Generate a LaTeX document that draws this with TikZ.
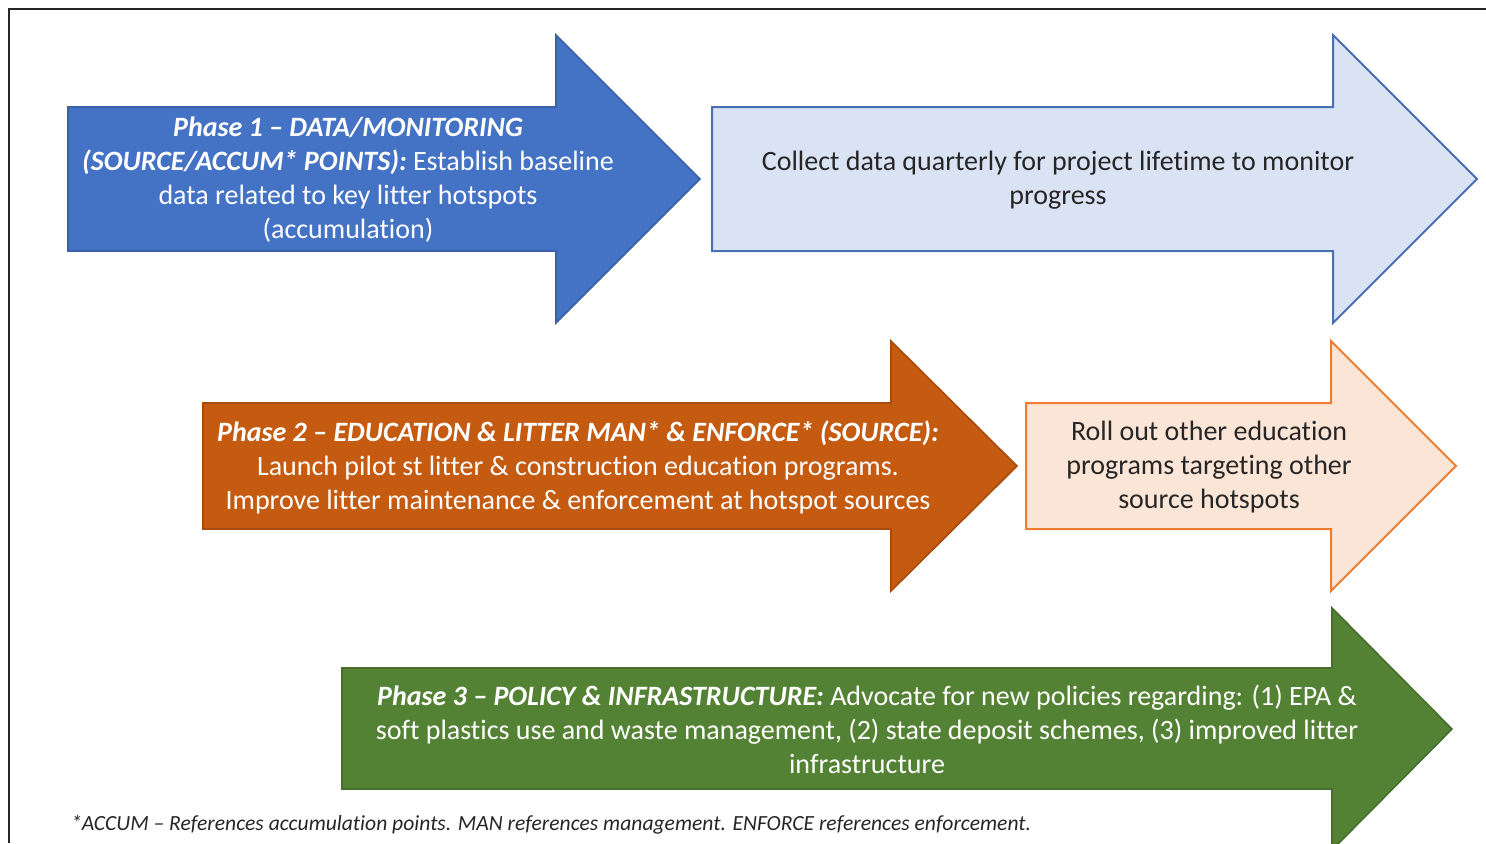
\documentclass[tikz,border=0pt]{standalone}
\usepackage{fontspec}
\setmainfont{Carlito}[Ligatures=NoCommon]
\usetikzlibrary{calc,positioning}
\definecolor{phaseblue}{HTML}{4472C4}
\definecolor{paleblue}{HTML}{DAE3F3}
\definecolor{edgeblue}{HTML}{4A6FB5}
\definecolor{phaseorange}{HTML}{C55A11}
\definecolor{paleorange}{HTML}{FBE5D6}
\definecolor{edgeorange}{HTML}{ED7D31}
\definecolor{phasegreen}{HTML}{548235}
\tikzset{
  solidarrow/.style={line width=0.8pt},
  outlinearrow/.style={line width=1pt, line join=miter},
  darktext/.style={align=center, text=white, font=\fontsize{14}{17}\selectfont},
  lighttext/.style={align=center, text=black!85, font=\fontsize{14}{17}\selectfont},
}
\newcommand{\phasetitle}[1]{\textbf{\textit{#1}}}

\begin{document}
\begin{tikzpicture}[x=0.5pt,y=-0.5pt]
            \useasboundingbox (0,0) rectangle (1486,843);
            \clip (0,0) rectangle (1486,843);

            % frame
            \draw[line width=0.8pt, black!85] (1486,9) -- (9,9) -- (9,843);

            % phase 1
            \fill[phaseblue, draw=phaseblue!85!black, solidarrow]
              (68,107) -- (556,107) -- (556,35) -- (700,179) -- (556,323) -- (556,251) -- (68,251) -- cycle;
            \draw[fill=paleblue, draw=edgeblue, outlinearrow]
              (712,107) -- (1333,107) -- (1333,35) -- (1477,179) -- (1333,323) -- (1333,251) -- (712,251) -- cycle;

            % phase 2
            \fill[phaseorange, draw=phaseorange!85!black, solidarrow]
              (203,403) -- (891,403) -- (891,341) -- (1017,466) -- (891,591) -- (891,529) -- (203,529) -- cycle;
            \draw[fill=paleorange, draw=edgeorange, outlinearrow]
              (1026,403) -- (1331,403) -- (1331,341) -- (1456,466) -- (1331,591) -- (1331,529) -- (1026,529) -- cycle;

            % phase 3
            \fill[phasegreen, draw=phasegreen!85!black, solidarrow]
              (342,668) -- (1332,668) -- (1332,608) -- (1452,729) -- (1332,850) -- (1332,789) -- (342,789) -- cycle;

            \node [darktext] (dataphase) at (348,180) {%
              \phasetitle{Phase 1 -- DATA/MONITORING}\\
              \phasetitle{(SOURCE/ACCUM* POINTS):} Establish baseline\\
              data related to key litter hotspots\\
              (accumulation)};

            \node [lighttext] (datanext) at (1058,180) {%
              Collect data quarterly for project lifetime to monitor\\
              progress};

            \node [darktext] (eduphase) at (578,467) {%
              \phasetitle{Phase 2 -- EDUCATION \& LITTER MAN* \& ENFORCE* (SOURCE):}\\
              Launch pilot st litter \& construction education programs.\\
              Improve litter maintenance \& enforcement at hotspot sources};

            \node [lighttext] (edunext) at (1209,467) {%
              Roll out other education\\
              programs targeting other\\
              source hotspots};

            \node [darktext] (policyphase) at (867,729) {%
              \phasetitle{Phase 3 -- POLICY \& INFRASTRUCTURE:} Advocate for new policies regarding: (1) EPA \&\\
              soft plastics use and waste management, (2) state deposit schemes, (3) improved litter\\
              infrastructure};

            \node [anchor=west, text=black!85,
              font=\fontsize{10.8}{12}\selectfont\itshape
            ] (footnote) at (64,825) {*ACCUM -- References accumulation points. MAN references management. ENFORCE references enforcement.};
          \end{tikzpicture}
\end{document}
